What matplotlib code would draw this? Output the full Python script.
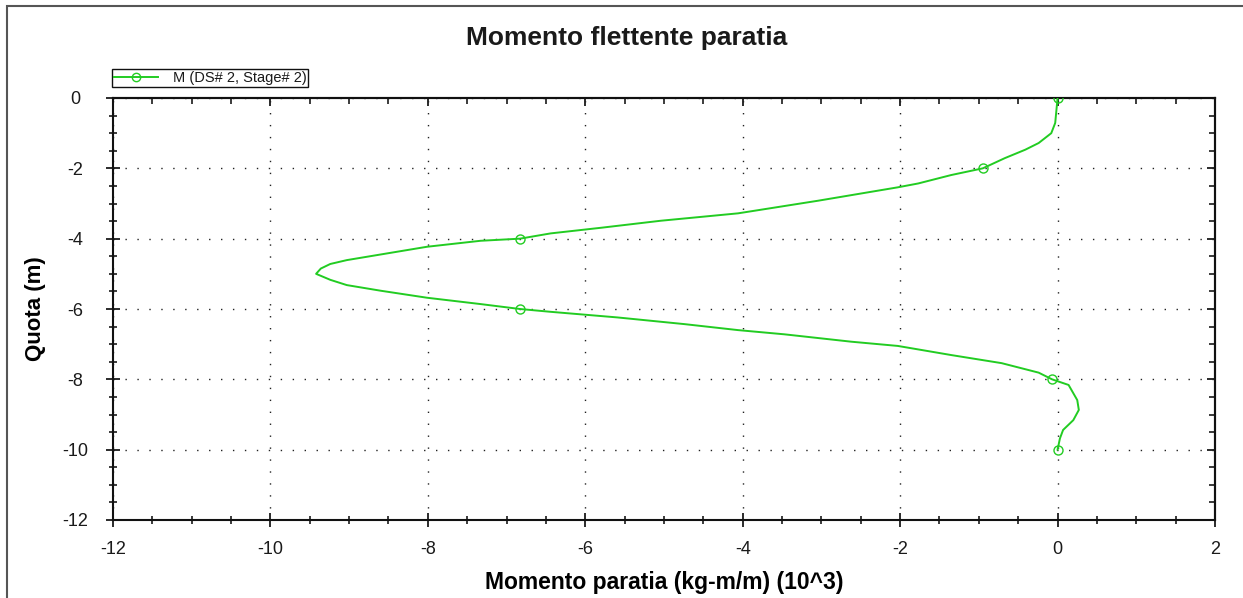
import numpy as np
import matplotlib
matplotlib.use("Agg")
import matplotlib.pyplot as plt
from matplotlib.lines import Line2D
from matplotlib.patches import Rectangle
from matplotlib.ticker import MultipleLocator

LINE_C = "#22CC22"
TEXT_C = "#1a1a1a"
GRID_C = "#222222"
FRAME_C = "#555555"

# bending moment along the wall (kg-m/m x 10^3) vs depth (m)
depth = [0.0, -0.71, -1.0, -1.28, -1.47, -1.71, -2.0, -2.19, -2.43, -2.54,
         -2.92, -3.28, -3.49, -3.69, -3.85, -4.0, -4.06, -4.23, -4.42, -4.61,
         -4.72, -4.85, -5.0, -5.17, -5.32, -5.48, -5.68, -5.86, -6.0, -6.08,
         -6.24, -6.43, -6.60, -6.72, -6.93, -7.05, -7.31, -7.54, -7.81, -8.0,
         -8.16, -8.59, -8.87, -9.16, -9.44, -9.68, -10.0]
moment = [0.0, -0.03, -0.08, -0.24, -0.41, -0.67, -0.95, -1.35, -1.77, -2.03,
          -3.04, -4.06, -5.04, -5.80, -6.44, -6.83, -7.33, -8.01, -8.52, -9.03,
          -9.24, -9.36, -9.42, -9.24, -9.03, -8.60, -8.01, -7.33, -6.83, -6.44,
          -5.59, -4.74, -4.06, -3.47, -2.62, -2.03, -1.35, -0.71, -0.24, -0.07,
          0.14, 0.25, 0.27, 0.20, 0.07, 0.03, 0.0]
marker_depths = [0, -2, -4, -6, -8, -10]

series_label = "M (DS# 2, Stage# 2)"
title = "Momento flettente paratia"
xlabel = "Momento paratia (kg-m/m) (10^3)"
ylabel = "Quota (m)"

plt.rcParams.update({
    "font.family": ["Liberation Sans", "DejaVu Sans"],
    "font.size": 13,
    "axes.unicode_minus": False,
    "text.color": TEXT_C,
    "xtick.color": TEXT_C,
    "ytick.color": TEXT_C,
})

W, H = 1243, 598
fig = plt.figure(figsize=(W / 100, H / 100), dpi=100)
ax = fig.add_axes([113 / W, 1 - 520 / H, (1215 - 113) / W, (520 - 98) / H])

depth = np.array(depth)
moment = np.array(moment)
sel = np.isin(depth, marker_depths)

ax.plot(moment, depth, color=LINE_C, linewidth=1.4, zorder=3)
ax.plot(moment[sel], depth[sel], linestyle="none", marker="o", markersize=6.5,
        markerfacecolor="none", markeredgecolor=LINE_C, markeredgewidth=1.0, zorder=4)

ax.set_xlim(-12, 2)
ax.set_ylim(-12, 0)
ax.xaxis.set_major_locator(MultipleLocator(2))
ax.xaxis.set_minor_locator(MultipleLocator(0.5))
ax.yaxis.set_major_locator(MultipleLocator(2))
ax.yaxis.set_minor_locator(MultipleLocator(0.5))

ax.grid(True, which="major", color=GRID_C, linewidth=1.0, linestyle=(0, (1, 7.6)))

for s in ax.spines.values():
    s.set_linewidth(1.5)
    s.set_color("#111111")

ax.tick_params(which="major", direction="inout", length=10, width=1.3, pad=10,
               labelsize=13)
ax.tick_params(which="minor", direction="inout", length=6, width=1.2)
# y labels are centred in their column
ax.yaxis.set_tick_params(which="major", pad=22)
for lbl in ax.get_yticklabels():
    lbl.set_horizontalalignment("center")

# inward ticks on the top and right edges
top = ax.secondary_xaxis("top")
top.xaxis.set_major_locator(MultipleLocator(2))
top.xaxis.set_minor_locator(MultipleLocator(0.5))
top.tick_params(which="major", direction="in", length=6, width=1.3, labeltop=False)
top.tick_params(which="minor", direction="in", length=4, width=1.2)
top.spines["top"].set_linewidth(1.5)
right = ax.secondary_yaxis("right")
right.yaxis.set_major_locator(MultipleLocator(2))
right.yaxis.set_minor_locator(MultipleLocator(0.5))
right.tick_params(which="major", direction="in", length=6, width=1.3, labelright=False)
right.tick_params(which="minor", direction="in", length=4, width=1.2)
right.spines["right"].set_linewidth(1.5)

ax.set_xlabel(xlabel, fontsize=16.5, fontweight="bold", va="center")
ax.xaxis.set_label_coords(0.5, -(583 - 520) / 422)
ax.set_ylabel(ylabel, fontsize=16, fontweight="bold", va="center")
ax.yaxis.set_label_coords(-(113 - 35) / 1102, 0.5)

fig.text(627 / W, 1 - 38 / H, title, fontsize=19, fontweight="bold",
         ha="center", va="center")

handle = Line2D([], [], color=LINE_C, linewidth=1.4, marker="o", markersize=6,
                markerfacecolor="none", markeredgecolor=LINE_C)
leg = fig.legend([handle], [series_label], loc="lower left",
                 bbox_to_anchor=(112 / W, 1 - 87 / H), fontsize=10.5,
                 frameon=True, fancybox=False, framealpha=1, borderpad=0.15,
                 handlelength=3.0, handletextpad=1.0, borderaxespad=0)
leg.get_frame().set_edgecolor("#111111")
leg.get_frame().set_linewidth(1.0)

# outer frame of the chart panel
fig.patches.append(Rectangle((7 / W, -0.1), 1.2, (H - 6) / H + 0.1,
                             transform=fig.transFigure, fill=False,
                             edgecolor=FRAME_C, linewidth=1.5))

fig.savefig("out.png", dpi=100, facecolor="white")
